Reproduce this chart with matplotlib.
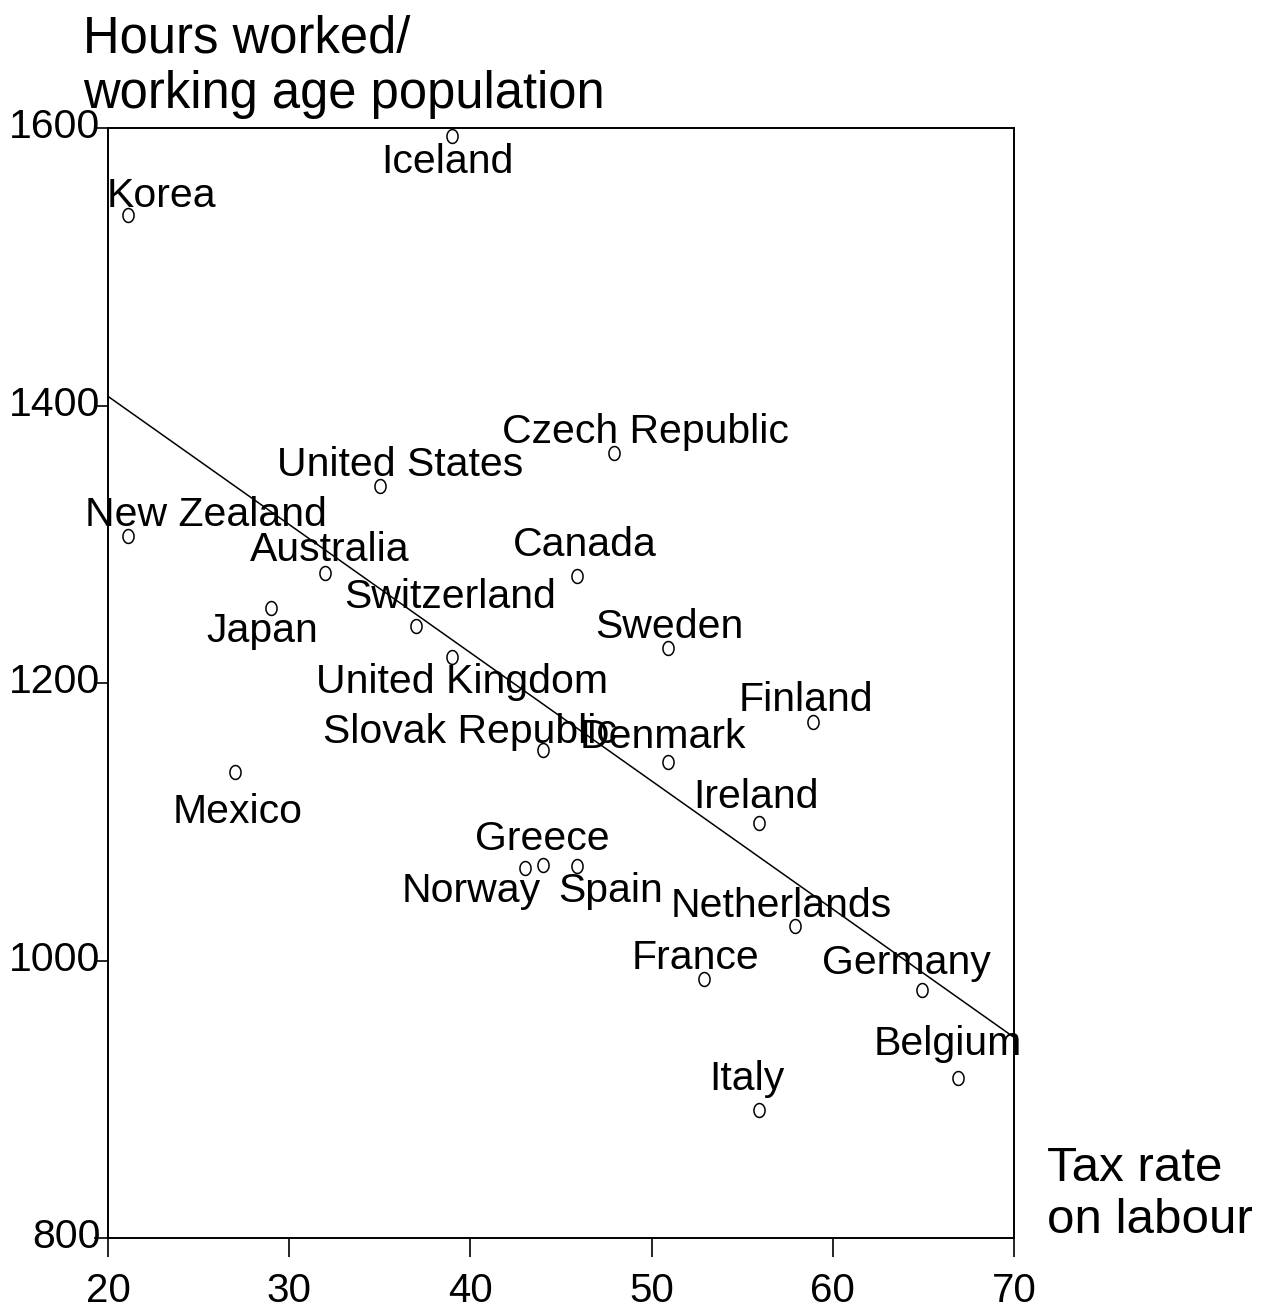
import numpy as np
import matplotlib
matplotlib.use("Agg")
import matplotlib.pyplot as plt
from matplotlib.path import Path
from matplotlib.transforms import ScaledTranslation

plt.rcParams['font.family'] = ['Liberation Sans', 'DejaVu Sans']

# data
countries = ['Iceland', 'Korea', 'Czech Republic', 'United States', 'New Zealand',
             'Canada', 'Australia', 'Japan', 'Switzerland', 'Sweden',
             'United Kingdom', 'Finland', 'Slovak Republic', 'Denmark', 'Mexico',
             'Ireland', 'Greece', 'Norway', 'Spain', 'Netherlands',
             'France', 'Germany', 'Belgium', 'Italy']
tax_rate = [39, 21.1, 47.9, 35, 21.1,
            45.9, 32, 29, 37, 50.9,
            39, 58.9, 44, 50.9, 27,
            55.9, 44, 43, 45.9, 57.9,
            52.9, 64.9, 66.9, 55.9]
hours = [1594, 1537, 1366, 1342, 1306,
         1277, 1279, 1254, 1241, 1225,
         1219, 1172, 1152, 1143, 1136,
         1099, 1069, 1067, 1068, 1025,
         987, 979, 915, 892]

x_ticks = [20, 30, 40, 50, 60, 70]
y_ticks = [800, 1000, 1200, 1400, 1600]

# label offsets from each point, in pixels (right, down)
label_offsets = [(-5, 26), (34, -19), (32, -21), (20, -21), (78, -21),
                 (8, -31), (4, -23), (-9, 23), (34, -29), (1, -21),
                 (10, 25), (-7, -22), (-73, -18), (-5, -25), (3, 40),
                 (-3, -26), (-1, -26), (-54, 23), (33, 25), (-13, -20),
                 (-9, -21), (-15, -27), (-10, -34), (-12, -31)]

fig = plt.figure(figsize=(12.71, 13.07), dpi=100)
ax = fig.add_axes([108 / 1271, 69 / 1307, 906 / 1271, 1110 / 1307])

# slightly tall open circle, like the original
t = np.linspace(0, 2 * np.pi, 60)
ellipse = Path(np.column_stack([0.4 * np.cos(t), 0.5 * np.sin(t)]))

ax.plot(tax_rate, hours, linestyle='none', marker=ellipse, markersize=10,
        markerfacecolor='white', markeredgecolor='black', markeredgewidth=1.1)

slope, intercept = np.polyfit(tax_rate, hours, 1)
fit_x = np.array([20, 70])
ax.plot(fit_x, intercept + slope * fit_x, color='black', linewidth=1.1)

for name, x, y, (dx, dy) in zip(countries, tax_rate, hours, label_offsets):
    ax.annotate(name, (x, y), xytext=(dx * 0.72, -dy * 0.72),
                textcoords='offset points', ha='center', va='center',
                fontsize=29.5)

ax.set_xlim(20, 70)
ax.set_ylim(800, 1600)
ax.set_xticks(x_ticks)
ax.set_yticks(y_ticks)
ax.tick_params(axis='x', direction='out', length=13.5, width=1.2, pad=11, labelsize=29)
ax.tick_params(axis='y', direction='out', length=10, width=1.2, pad=-4.5, labelsize=29.5)
for lab in ax.get_yticklabels():
    lab.set_transform(lab.get_transform() + ScaledTranslation(0, 3.5 / 72, fig.dpi_scale_trans))
for sp in ax.spines.values():
    sp.set_linewidth(1.4)

fig.text(83 / 1271, 1 - 119 / 1307, 'Hours worked/\nworking age population',
         ha='left', va='bottom', fontsize=36.5, linespacing=1.18)
fig.text(1047 / 1271, 1 - 1243 / 1307, 'Tax rate\non labour',
         ha='left', va='bottom', fontsize=35.5, linespacing=1.2)

fig.savefig('out.png', dpi=100)
